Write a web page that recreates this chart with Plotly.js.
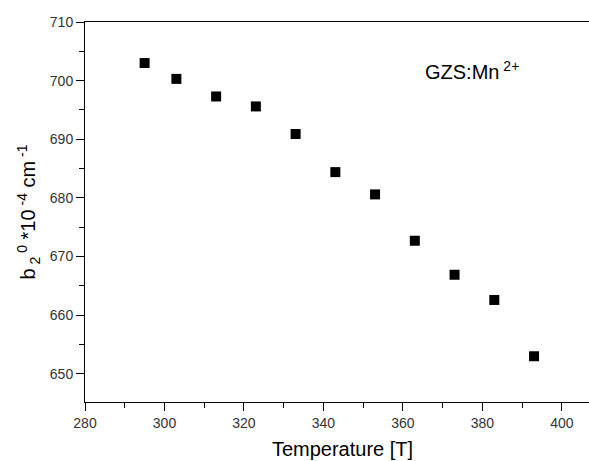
<!DOCTYPE html>
<html><head><meta charset="utf-8">
<script src="https://cdn.plot.ly/plotly-3.0.1.min.js"></script>
<style>html,body{margin:0;padding:0;background:#fff;overflow:hidden;}#w{width:589px;height:461px;overflow:hidden;}#c{width:600px;height:461px;}</style>
</head><body><div id="w"><div id="c"></div></div>
<script>
const temperature = [295, 303, 313, 323, 333, 343, 353, 363, 373, 383, 393];
const b20 = [703.0, 700.3, 697.3, 695.6, 690.9, 684.4, 680.6, 672.7, 666.9, 662.6, 653.0];
const xTicks = [280, 300, 320, 340, 360, 380, 400];
const yTicks = [650, 660, 670, 680, 690, 700, 710];
const font = "Liberation Sans, Arial, sans-serif";

Plotly.newPlot('c', [{
  x: temperature, y: b20, type: 'scatter', mode: 'markers',
  marker: {symbol: 'square', size: 10, color: '#000'}
}], {
  width: 600, height: 461,
  margin: {l: 85, r: 0, t: 22, b: 59},
  paper_bgcolor: '#fff', plot_bgcolor: '#fff',
  showlegend: false,
  xaxis: {
    range: [280, 409.6], tickvals: xTicks, ticks: 'outside', ticklen: 8, tickwidth: 1, tickcolor: '#000',
    showline: true, linecolor: '#000', linewidth: 1, mirror: true, showgrid: false, zeroline: false,
    minor: {dtick: 10, tick0: 280, ticks: 'outside', ticklen: 5, tickcolor: '#000', showgrid: false},
    tickfont: {family: font, size: 14, color: '#333'},
    title: {text: 'Temperature [T]', font: {family: font, size: 20, color: '#000'}, standoff: 12}
  },
  yaxis: {
    range: [645.2, 710], tickvals: yTicks, ticks: 'outside', ticklen: 8, tickwidth: 1, tickcolor: '#000',
    showline: true, linecolor: '#000', linewidth: 1, showgrid: false, zeroline: false,
    minor: {dtick: 5, tick0: 650, ticks: 'outside', ticklen: 5, tickcolor: '#000', showgrid: false},
    tickfont: {family: font, size: 14, color: '#333'},
    title: {text: 'b<sub> 2</sub><sup> 0</sup> *10<sup> -4</sup> cm<sup> -1</sup>', font: {family: font, size: 20, color: '#000'}, standoff: 8}
  },
  annotations: [{
    xref: 'x', yref: 'y', x: 365, y: 701.7, xanchor: 'left', yanchor: 'middle',
    text: 'GZS:Mn<sup> 2+</sup>', showarrow: false, font: {family: font, size: 20, color: '#000'}
  }]
}, {displayModeBar: false, staticPlot: true});
</script></body></html>
